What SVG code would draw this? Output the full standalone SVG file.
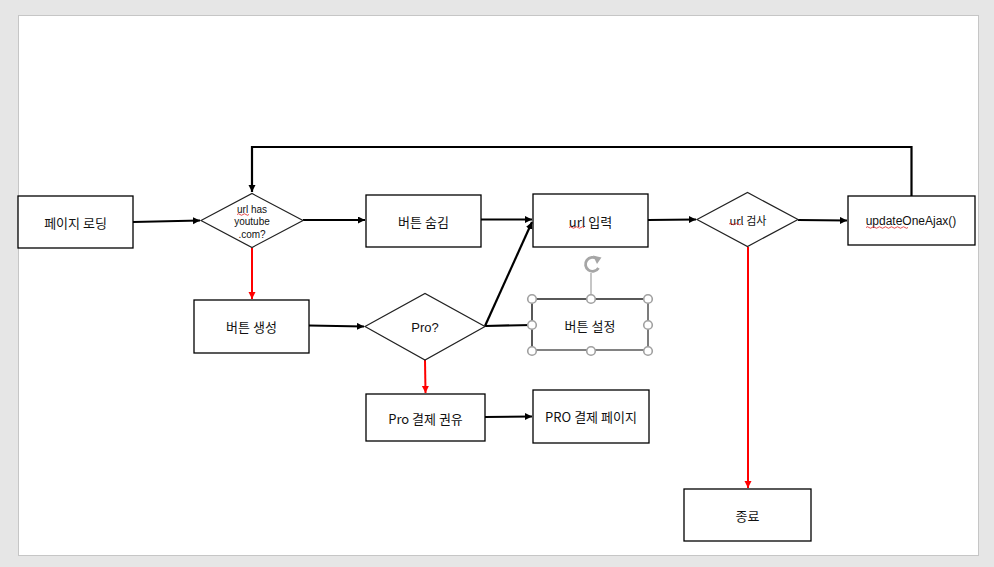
<svg xmlns="http://www.w3.org/2000/svg" width="994" height="567" viewBox="0 0 994 567">
<style>
.box{fill:#fff;stroke:#000;stroke-width:1.3}
.dia{fill:#fff;stroke:#222;stroke-width:1.2}
.t{font-family:"Noto Sans CJK KR","Liberation Sans",sans-serif;font-size:13px;fill:#111;text-anchor:middle;dominant-baseline:central}
.ts{font-family:"Liberation Sans","Noto Sans CJK KR",sans-serif;font-size:10px;fill:#111;text-anchor:middle;dominant-baseline:central}
.k{stroke:#000;stroke-width:2.2;fill:none}
.r{stroke:#f00;stroke-width:2;fill:none}
.sq{stroke:#e02020;stroke-width:0.8;fill:none}
.h{fill:#fff;stroke:#a0a0a0;stroke-width:1.6}
</style>
<defs>
<marker id="ak" markerUnits="userSpaceOnUse" markerWidth="8" markerHeight="8" refX="7" refY="3.5" orient="auto"><path d="M0,0 L7,3.5 L0,7 z" fill="#000"/></marker>
<marker id="ar" markerUnits="userSpaceOnUse" markerWidth="8" markerHeight="8" refX="7" refY="3.5" orient="auto"><path d="M0,0 L7,3.5 L0,7 z" fill="#f00"/></marker>
</defs>
<rect x="0" y="0" width="994" height="567" fill="#e6e6e6"/>
<rect x="18.5" y="15.5" width="960" height="540" fill="#fff" stroke="#c6c6c6" stroke-width="1"/>

<g id="connectors">
<path class="k" d="M133,222 L200,220.5" marker-end="url(#ak)"/>
<path class="k" d="M303,220 L365,220" marker-end="url(#ak)"/>
<path class="k" d="M481,219.5 L532,219.5" marker-end="url(#ak)"/>
<path class="k" d="M485,326 L532,222" marker-end="url(#ak)"/>
<path class="k" d="M648,220 L696,219.5" marker-end="url(#ak)"/>
<path class="k" d="M798,220 L847,220.5" marker-end="url(#ak)"/>
<path class="k" stroke-width="2.6" d="M911.5,196 L911.5,147 L252,147 L252,192" marker-end="url(#ak)"/>
<path class="r" d="M252,248 L252,299" marker-end="url(#ar)"/>
<path class="k" d="M309,325.5 L364,326.5" marker-end="url(#ak)"/>
<path class="k" d="M485,326 L532,325"/>
<path class="r" d="M425,360 L425.5,393" marker-end="url(#ar)"/>
<path class="k" d="M485,417 L532,416.5" marker-end="url(#ak)"/>
<path class="r" d="M748,247 L748,488" marker-end="url(#ar)"/>
</g>

<g id="page-loading">
<rect class="box" x="18" y="196" width="115" height="52"/>
<text class="t" x="75.5" y="222">페이지 로딩</text>
</g>

<g id="url-has-youtube">
<polygon class="dia" points="201,220.5 252,193.5 303,220.5 252,247.5"/>
<text class="ts" x="252" y="209">url has</text>
<text class="ts" x="252" y="221.5">youtube</text>
<text class="ts" x="252" y="234">.com?</text>
<path class="sq" d="M237,214.5 q1.5,-1.5 3,0 t3,0 t3,0 t3,0"/>
</g>

<g id="btn-hide">
<rect class="box" x="366" y="195" width="115" height="52"/>
<text class="t" x="423.5" y="221">버튼 숨김</text>
</g>

<g id="url-input">
<rect class="box" x="533" y="194" width="115" height="53"/>
<text class="t" x="590.5" y="221">url 입력</text>
<path class="sq" d="M569,227.5 q1.5,-1.5 3,0 t3,0 t3,0 t3,0 t3,0"/>
</g>

<g id="url-check">
<polygon class="dia" points="697,219.5 747.5,192.5 798,219.5 747.5,246.5"/>
<text class="t" x="748" y="219.5" style="font-size:11px">url 검사</text>
<path class="sq" d="M729,224 q1.5,-1.5 3,0 t3,0 t3,0 t3,0"/>
</g>

<g id="update-one-ajax">
<rect class="box" x="848" y="196" width="127" height="49"/>
<text class="ts" x="911" y="221" style="font-size:12px">updateOneAjax()</text>
<path class="sq" d="M866,227.5 q1.5,-1.5 3,0 t3,0 t3,0 t3,0 t3,0 t3,0 t3,0 t3,0 t3,0 t3,0 t3,0 t3,0 t3,0 t3,0"/>
</g>

<g id="btn-create">
<rect class="box" x="194" y="300" width="115" height="53"/>
<text class="t" x="251.5" y="326">버튼 생성</text>
</g>

<g id="pro-check">
<polygon class="dia" points="365,326.5 425,293.5 485,326.5 425,360"/>
<text class="ts" x="425" y="327" style="font-size:13px">Pro?</text>
</g>

<g id="btn-setting">
<rect class="box" x="532" y="299" width="116" height="51"/>
<path d="M648,299 L648,350 L532,350" stroke="#909090" stroke-width="1.3" fill="none"/>
<text class="t" x="590" y="325">버튼 설정</text>
<line x1="591" y1="273" x2="591" y2="295" stroke="#a0a0a0" stroke-width="1.2"/>
<path d="M597,259 A7,7 0 1 0 598.5,268" stroke="#a6a6a6" stroke-width="2.8" fill="none"/>
<path d="M593,255.5 L601.5,257.5 L597,264 z" fill="#a6a6a6"/>
<circle class="h" cx="532" cy="299" r="4.3"/>
<circle class="h" cx="591" cy="299" r="4.3"/>
<circle class="h" cx="648" cy="299" r="4.3"/>
<circle class="h" cx="532" cy="325" r="4.3"/>
<circle class="h" cx="648" cy="325" r="4.3"/>
<circle class="h" cx="532" cy="351" r="4.3"/>
<circle class="h" cx="591" cy="351" r="4.3"/>
<circle class="h" cx="648" cy="351" r="4.3"/>
</g>

<g id="pro-recommend">
<rect class="box" x="366" y="394" width="119" height="47"/>
<text class="t" x="425.5" y="418">Pro 결제 권유</text>
</g>

<g id="pro-payment-page">
<rect class="box" x="533" y="390" width="116" height="53"/>
<text class="t" x="591" y="416">PRO 결제 페이지</text>
</g>

<g id="end">
<rect class="box" x="684" y="489" width="127" height="52"/>
<text class="t" x="747.5" y="515">종료</text>
</g>
</svg>
